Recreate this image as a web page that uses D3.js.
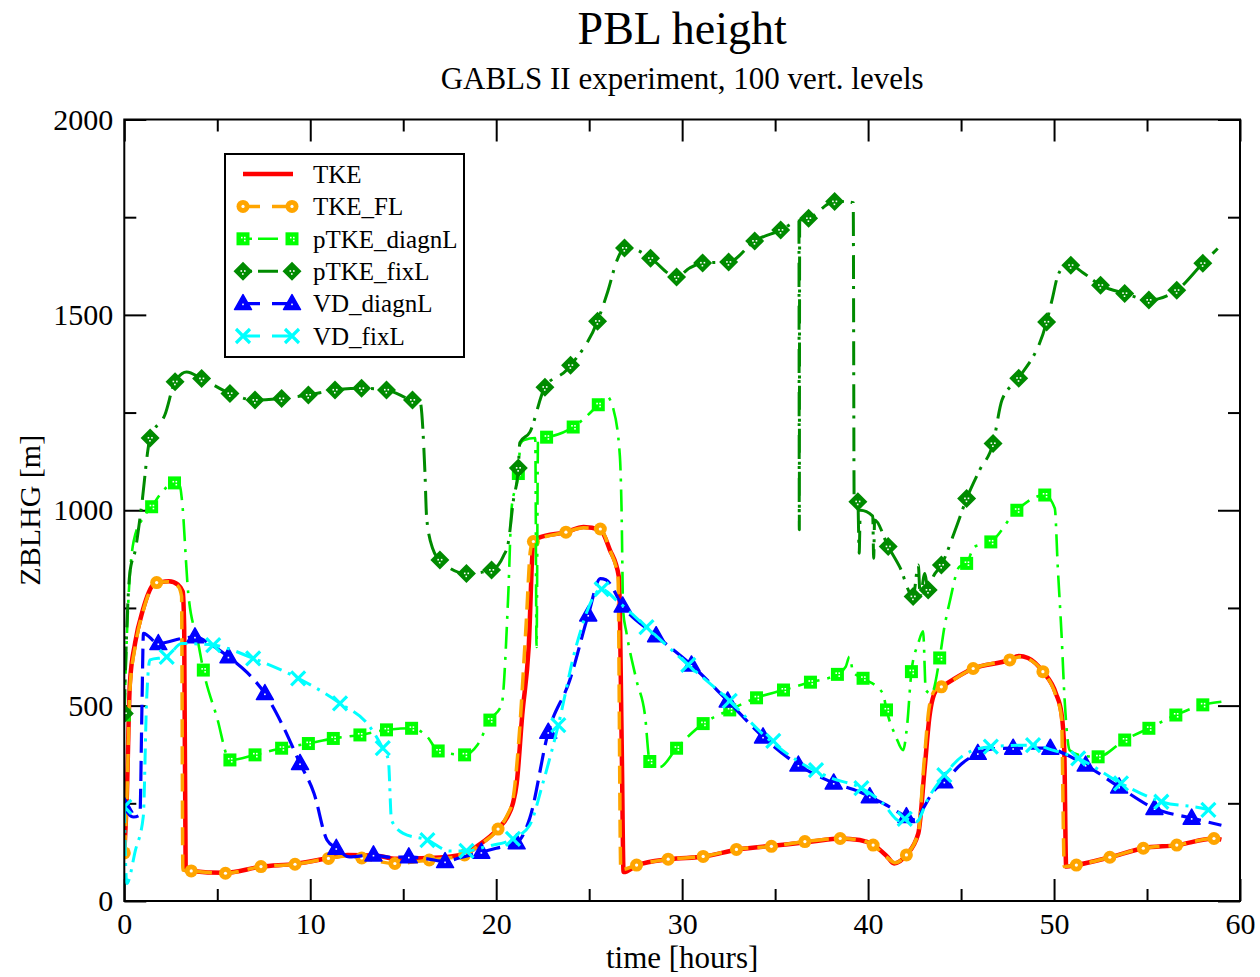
<!DOCTYPE html>
<html><head><meta charset="utf-8">
<script src="https://cdn.jsdelivr.net/npm/d3@7"></script>
<style>
body{margin:0;background:#fff}
svg{display:block}
text{font-family:"Liberation Serif","Times New Roman",serif;fill:#000}
</style>
</head><body>
<svg id="c" width="1260" height="977"></svg>
<script>
// ---------- data ----------
const xMajorTicks=[0,10,20,30,40,50,60];
const xMinorTicks=[5,15,25,35,45,55];
const yMajorTicks=[0,500,1000,1500,2000];
const yMinorTicks=[250,750,1250,1750];
const seriesNames=["TKE","TKE_FL","pTKE_diagnL","pTKE_fixL","VD_diagnL","VD_fixL"];

const tke=[[0,125],[0.13,260],[0.3,557],[0.58,660],[1.0,745],[1.56,809],[2.0,816],[2.4,818],[2.9,809],[3.14,792],[3.22,700],[3.3,79],[3.6,77],[5.4,72],[7.4,88],[9.2,95],[11.0,110],[12.0,118],[13.6,116],[14.6,108],[16.4,110],[18.3,120],[19.0,141],[20.1,185],[20.6,215],[20.9,250],[21.1,300],[21.4,476],[21.75,652],[22.0,920],[22.3,930],[23.75,944],[24.7,957],[25.6,950],[26.1,900],[26.6,829],[26.75,400],[26.85,74],[27.6,92],[29.3,107],[31.2,114],[33.0,132],[35.0,142],[37.0,152],[38.5,160],[39.55,156],[40.3,143],[41.0,115],[41.4,96],[42.06,118],[42.7,173],[43.05,344],[43.3,472],[43.67,540],[43.94,548],[45.65,595],[47.6,617],[48.1,627],[48.6,622],[49.4,587],[50.1,531],[50.4,480],[50.55,386],[50.65,88],[51.2,92],[53.0,112],[54.8,135],[56.6,143],[58.6,160],[59.0,157]];
const tkeFL=[[0,123],[0.13,250],[0.3,540],[0.6,655],[1.0,740],[1.74,815],[2.37,817],[2.9,805],[3.08,780],[3.15,79],[3.6,77],[5.44,71],[7.35,88],[9.18,94],[10.98,109],[12.0,115],[12.77,110],[14.55,96],[16.4,105],[18.3,118],[19.0,140],[20.1,184],[20.6,220],[20.9,260],[21.2,400],[21.6,700],[21.85,900],[22.0,920],[23.75,944],[24.7,955],[25.6,952],[26.1,900],[26.55,829],[26.7,80],[27.55,92],[29.25,107],[31.13,114],[32.92,132],[34.8,140],[36.6,152],[38.5,160],[39.55,156],[40.27,143],[41.0,112],[41.45,98],[42.06,118],[42.7,175],[43.0,350],[43.3,500],[43.6,540],[43.94,548],[45.65,595],[47.62,617],[48.2,625],[48.6,620],[49.4,587],[50.1,525],[50.4,470],[50.55,88],[51.2,92],[53.0,112],[54.8,135],[56.6,143],[58.6,160],[59.0,158]];
const ptkeDiagnL=[[0,476],[0.2,750],[0.5,920],[1.0,980],[1.47,1009],[2.0,1045],[2.7,1070],[3.0,1060],[3.1,1026],[3.44,787],[3.98,659],[4.25,591],[4.97,472],[5.68,361],[7.03,374],[8.46,391],[9.9,403],[11.24,416],[12.67,425],[14.1,438],[15.45,442],[16.3,420],[16.88,384],[18.3,374],[19.0,400],[19.66,463],[20.29,502],[20.65,786],[20.83,1006],[21.19,1094],[21.3,1170],[21.5,1180],[22.1,1185],[22.17,650],[22.25,1185],[22.71,1187],[24.14,1213],[25.49,1270],[25.93,1292],[26.29,1261],[26.65,1139],[26.74,1006],[26.83,741],[27.0,688],[27.55,564],[28.0,476],[28.26,357],[28.8,343],[29.7,391],[31.13,454],[32.56,489],[34.0,520],[35.45,540],[36.9,560],[38.35,580],[38.8,600],[39.0,625],[39.2,585],[39.73,570],[40.8,531],[40.99,489],[41.5,420],[41.88,386],[42.1,450],[42.33,587],[42.7,660],[42.96,690],[43.1,540],[43.4,530],[43.85,622],[44.1,700],[44.4,768],[44.9,855],[45.3,864],[45.7,906],[46.6,919],[48.0,1000],[49.5,1039],[50.04,1005],[50.2,855],[50.4,685],[50.57,514],[50.84,386],[51.5,372],[52.37,369],[53.8,412],[55.1,442],[56.55,476],[58.0,502],[59.0,510]];
const ptkeFixL=[[0,480],[0.1,650],[0.3,840],[0.6,900],[0.9,1000],[1.39,1185],[2.19,1245],[2.73,1329],[3.35,1354],[4.16,1337],[5.68,1299],[7.03,1282],[8.46,1286],[9.9,1295],[11.33,1308],[12.76,1312],[14.1,1308],[15.5,1282],[15.9,1279],[16.17,1094],[16.26,980],[16.6,900],[16.97,873],[18.4,838],[19.75,847],[20.38,882],[20.65,917],[20.92,1024],[21.19,1108],[21.27,1173],[21.81,1200],[22.62,1315],[23.79,1359],[24.0,1371],[25.45,1484],[26.0,1560],[26.5,1640],[26.9,1671],[27.3,1670],[28.3,1645],[29.7,1597],[30.4,1620],[31.1,1633],[32.5,1635],[33.9,1689],[35.3,1717],[36.28,1740],[36.3,950],[36.32,1742],[36.8,1747],[38.2,1790],[38.7,1790],[39.2,1787],[39.25,1020],[39.45,1022],[39.52,890],[39.58,1000],[40.25,985],[40.3,877],[40.35,975],[41.08,907],[41.7,855],[42.42,779],[42.7,860],[42.8,780],[43.05,838],[43.23,796],[43.5,830],[43.94,860],[44.75,958],[45.3,1030],[46.0,1103],[46.72,1171],[47.2,1282],[48.1,1338],[49.6,1482],[49.9,1540],[50.2,1600],[50.6,1625],[50.9,1627],[51.5,1610],[52.5,1576],[53.8,1555],[55.1,1538],[56.6,1563],[58.0,1632],[58.8,1670]];
const vdDiagnL=[[0,243],[0.2,225],[0.5,215],[0.84,220],[0.95,500],[1.03,685],[1.83,659],[3.1,672],[3.8,676],[4.7,655],[5.6,625],[6.6,585],[7.56,531],[8.55,446],[9.45,352],[10.2,276],[10.9,156],[11.4,135],[12.1,113],[13.4,118],[14.3,112],[15.3,113],[16.3,108],[17.25,101],[18.0,110],[19.2,125],[20.0,135],[21.1,149],[21.8,211],[22.8,432],[23.95,564],[24.95,732],[25.6,825],[25.9,822],[26.8,755],[28.6,679],[30.5,604],[32.45,512],[34.35,420],[36.25,348],[38.15,302],[39.5,280],[40.09,267],[41.0,245],[42.06,216],[42.6,207],[43.0,240],[43.5,280],[44.1,305],[45.0,350],[45.9,378],[46.8,390],[47.8,391],[49.8,391],[50.5,378],[51.7,348],[53.5,292],[55.4,237],[57.4,212],[59.0,194]];
const vdFixL=[[0,241],[0.13,45],[0.6,130],[1.02,216],[1.2,514],[1.38,617],[2.28,625],[3.08,659],[4.78,655],[6.93,621],[9.35,570],[11.6,506],[13.2,446],[13.9,391],[14.2,361],[14.37,207],[15.0,173],[16.3,156],[17.5,128],[18.4,128],[19.5,140],[20.9,159],[21.8,194],[22.5,300],[23.34,450],[24.3,652],[25.67,798],[26.5,768],[28.08,701],[30.33,604],[32.56,512],[34.5,420],[36.5,350],[38.0,315],[39.64,289],[40.8,250],[41.7,205],[41.97,210],[42.6,203],[43.2,260],[44.1,322],[45.2,375],[46.6,395],[48.87,399],[50.0,385],[51.3,365],[53.6,301],[55.77,254],[58.3,233],[58.7,225]];

const tkeFLMarks=[[0,123],[1.74,815],[3.6,77],[5.44,71],[7.35,88],[9.18,94],[10.98,109],[12.77,110],[14.55,96],[16.4,105],[18.3,118],[20.1,184],[22.0,920],[23.75,944],[25.6,952],[27.55,92],[29.25,107],[31.13,114],[32.92,132],[34.8,140],[36.6,152],[38.5,160],[40.27,143],[42.06,118],[43.94,548],[45.65,595],[47.62,617],[49.4,587],[51.2,92],[53.0,112],[54.8,135],[56.6,143],[58.6,160]];
const ptkeDiagnLMarks=[[0,476],[1.47,1009],[2.7,1070],[4.25,591],[5.68,361],[7.03,374],[8.46,391],[9.9,403],[11.24,416],[12.67,425],[14.1,438],[15.45,442],[16.88,384],[18.3,374],[19.66,463],[21.19,1094],[22.71,1187],[24.14,1213],[25.49,1270],[28.26,357],[29.7,391],[31.13,454],[32.56,489],[34.0,520],[35.45,540],[36.9,560],[38.35,580],[39.73,570],[40.99,489],[42.33,587],[43.85,622],[45.3,864],[46.6,919],[48.0,1000],[49.5,1039],[52.37,369],[53.8,412],[55.1,442],[56.55,476],[58.0,502]];
const ptkeFixLMarks=[[0,480],[1.39,1185],[2.73,1329],[4.16,1337],[5.68,1299],[7.03,1282],[8.46,1286],[9.9,1295],[11.33,1308],[12.76,1312],[14.1,1308],[15.5,1282],[16.97,873],[18.4,838],[19.75,847],[21.19,1108],[22.62,1315],[24.0,1371],[25.45,1484],[26.9,1671],[28.3,1645],[29.7,1597],[31.1,1633],[32.5,1635],[33.9,1689],[35.3,1717],[36.8,1747],[38.2,1790],[39.45,1022],[41.08,907],[42.42,779],[43.23,796],[43.94,860],[45.3,1030],[46.72,1171],[48.1,1338],[49.6,1482],[50.9,1627],[52.5,1576],[53.8,1555],[55.1,1538],[56.6,1563],[58.0,1632]];
const vdDiagnLMarks=[[0,243],[1.83,659],[3.8,676],[5.6,625],[7.56,531],[9.45,352],[11.4,135],[13.4,118],[15.3,113],[17.25,101],[19.2,125],[21.1,149],[22.8,432],[24.95,732],[26.8,755],[28.6,679],[30.5,604],[32.45,512],[34.35,420],[36.25,348],[38.15,302],[40.09,267],[42.06,216],[44.1,305],[45.9,378],[47.8,391],[49.8,391],[51.7,348],[53.5,292],[55.4,237],[57.4,212]];
const vdFixLMarks=[[0,241],[2.28,625],[4.78,655],[6.93,621],[9.35,570],[11.6,506],[13.9,391],[16.3,156],[18.4,128],[20.9,159],[23.34,450],[25.67,798],[28.08,701],[30.33,604],[32.56,512],[34.9,410],[37.2,335],[39.64,289],[41.97,210],[44.1,322],[46.6,395],[48.87,399],[51.3,365],[53.6,301],[55.77,254],[58.3,233]];

// ---------- styles ----------
const styles=[
 {name:seriesNames[0],data:tke,marks:[],color:"#ff0000",width:4.5,dash:null,sym:null},
 {name:seriesNames[1],data:tkeFL,marks:tkeFLMarks,color:"#ffa500",width:3.5,dash:"18,9",sym:"circle"},
 {name:seriesNames[2],data:ptkeDiagnL,marks:ptkeDiagnLMarks,color:"#00ff00",width:2.6,dash:"22,8,3,8",sym:"square"},
 {name:seriesNames[3],data:ptkeFixL,marks:ptkeFixLMarks,color:"#008b00",width:3,dash:"24,7,3,9",sym:"diamond"},
 {name:seriesNames[4],data:vdDiagnL,marks:vdDiagnLMarks,color:"#0000ff",width:3.2,dash:"20,8",sym:"triangle"},
 {name:seriesNames[5],data:vdFixL,marks:vdFixLMarks,color:"#00ffff",width:3,dash:"16,7,3,7",sym:"x"}
];

const svg=d3.select("#c");
const L=124.3,R=1240,T=119.5,B=901;
const x=d3.scaleLinear().domain([0,60]).range([L,R]);
const y=d3.scaleLinear().domain([0,2000]).range([B,T]);

// titles
svg.append("text").attr("x",(L+R)/2).attr("y",44).attr("text-anchor","middle").style("font-size","46px").text("PBL height");
svg.append("text").attr("x",(L+R)/2).attr("y",89).attr("text-anchor","middle").style("font-size","31px").text("GABLS II experiment, 100 vert. levels");
svg.append("text").attr("x",(L+R)/2).attr("y",968).attr("text-anchor","middle").style("font-size","31px").text("time [hours]");
svg.append("text").attr("transform","translate(40,"+((T+B)/2)+") rotate(-90)").attr("text-anchor","middle").style("font-size","30px").text("ZBLHG [m]");

// axes
function styleAxis(g){g.select(".domain").remove();g.selectAll("line").attr("stroke","#000").attr("stroke-width",2);g.selectAll("text").style("font-size","30px").style("font-family","Liberation Serif, serif").attr("fill","#000");}
svg.append("g").attr("transform",`translate(0,${B})`).call(d3.axisBottom(x).tickValues(xMajorTicks).tickSize(-22).tickPadding(12).tickFormat(d3.format("d"))).call(styleAxis);
svg.append("g").attr("transform",`translate(0,${B})`).call(d3.axisBottom(x).tickValues(xMinorTicks).tickSize(-12).tickFormat("")).call(styleAxis);
svg.append("g").attr("transform",`translate(0,${T})`).call(d3.axisTop(x).tickValues(xMajorTicks).tickSize(-22).tickFormat("")).call(styleAxis);
svg.append("g").attr("transform",`translate(0,${T})`).call(d3.axisTop(x).tickValues(xMinorTicks).tickSize(-12).tickFormat("")).call(styleAxis);
svg.append("g").attr("transform",`translate(${L},0)`).call(d3.axisLeft(y).tickValues(yMajorTicks).tickSize(-22).tickPadding(11).tickFormat(d3.format("d"))).call(styleAxis);
svg.append("g").attr("transform",`translate(${L},0)`).call(d3.axisLeft(y).tickValues(yMinorTicks).tickSize(-12).tickFormat("")).call(styleAxis);
svg.append("g").attr("transform",`translate(${R},0)`).call(d3.axisRight(y).tickValues(yMajorTicks).tickSize(-22).tickFormat("")).call(styleAxis);
svg.append("g").attr("transform",`translate(${R},0)`).call(d3.axisRight(y).tickValues(yMinorTicks).tickSize(-12).tickFormat("")).call(styleAxis);

svg.append("clipPath").attr("id","clip").append("rect").attr("x",L).attr("y",T).attr("width",R-L).attr("height",B-T);
const plot=svg.append("g").attr("clip-path","url(#clip)");

const line=d3.line().x(d=>x(d[0])).y(d=>y(d[1])).curve(d3.curveMonotoneX);

function drawSym(g,sym,color,cx,cy){
  const m=g.append("g").attr("transform",`translate(${cx},${cy})`);
  if(sym==="circle"){
    m.append("circle").attr("r",6.5).attr("fill",color);
    m.append("circle").attr("r",1.6).attr("fill","#fff");
  }else if(sym==="square"){
    m.append("rect").attr("x",-6.5).attr("y",-6.5).attr("width",13).attr("height",13).attr("fill",color);
    [[-2,-2],[1,1],[1,-2]].forEach(p=>m.append("rect").attr("x",p[0]).attr("y",p[1]).attr("width",1.6).attr("height",1.6).attr("fill","#fff"));
  }else if(sym==="diamond"){
    m.append("path").attr("d","M0,-9.5L9.5,0L0,9.5L-9.5,0Z").attr("fill",color);
    [[-2.5,-1],[1,-1],[-1,2]].forEach(p=>m.append("rect").attr("x",p[0]).attr("y",p[1]).attr("width",1.6).attr("height",1.6).attr("fill","#fff"));
  }else if(sym==="triangle"){
    m.append("path").attr("d","M0,-9L8.5,6L-8.5,6Z").attr("fill",color).attr("stroke",color).attr("stroke-width",1.5).attr("stroke-linejoin","round");
    m.append("rect").attr("x",-0.8).attr("y",0).attr("width",1.6).attr("height",1.6).attr("fill","#fff");
  }else if(sym==="x"){
    m.append("path").attr("d","M-7,-7L7,7M-7,7L7,-7").attr("stroke",color).attr("stroke-width",3.2).attr("fill","none");
  }
}

styles.forEach(s=>{
  const p=plot.append("path").datum(s.data).attr("d",line).attr("fill","none")
    .attr("stroke",s.color).attr("stroke-width",s.width).attr("stroke-linejoin","round");
  if(s.dash)p.attr("stroke-dasharray",s.dash);
  const mg=plot.append("g");
  s.marks.forEach(d=>drawSym(mg,s.sym,s.color,x(d[0]),y(d[1])));
});

// frame
svg.append("rect").attr("x",L).attr("y",T).attr("width",R-L).attr("height",B-T).attr("fill","none").attr("stroke","#000").attr("stroke-width",2);

// legend
const lg=svg.append("g");
lg.append("rect").attr("x",225).attr("y",154).attr("width",239).attr("height",203).attr("fill","#fff").attr("stroke","#000").attr("stroke-width",2);
styles.forEach((s,i)=>{
  const cy=174+i*32.4;
  const l=lg.append("line").attr("x1",243).attr("x2",293).attr("y1",cy).attr("y2",cy).attr("stroke",s.color).attr("stroke-width",s.width);
  if(s.dash)l.attr("stroke-dasharray",s.sym==="square"||s.sym==="diamond"?"9,6,20,30":"17,12,30,30");
  if(s.sym){drawSym(lg,s.sym,s.color,243,cy);drawSym(lg,s.sym,s.color,292,cy);}
  lg.append("text").attr("x",313).attr("y",cy).attr("dy","0.35em").style("font-size","25px").text(s.name);
});
</script>
</body></html>
